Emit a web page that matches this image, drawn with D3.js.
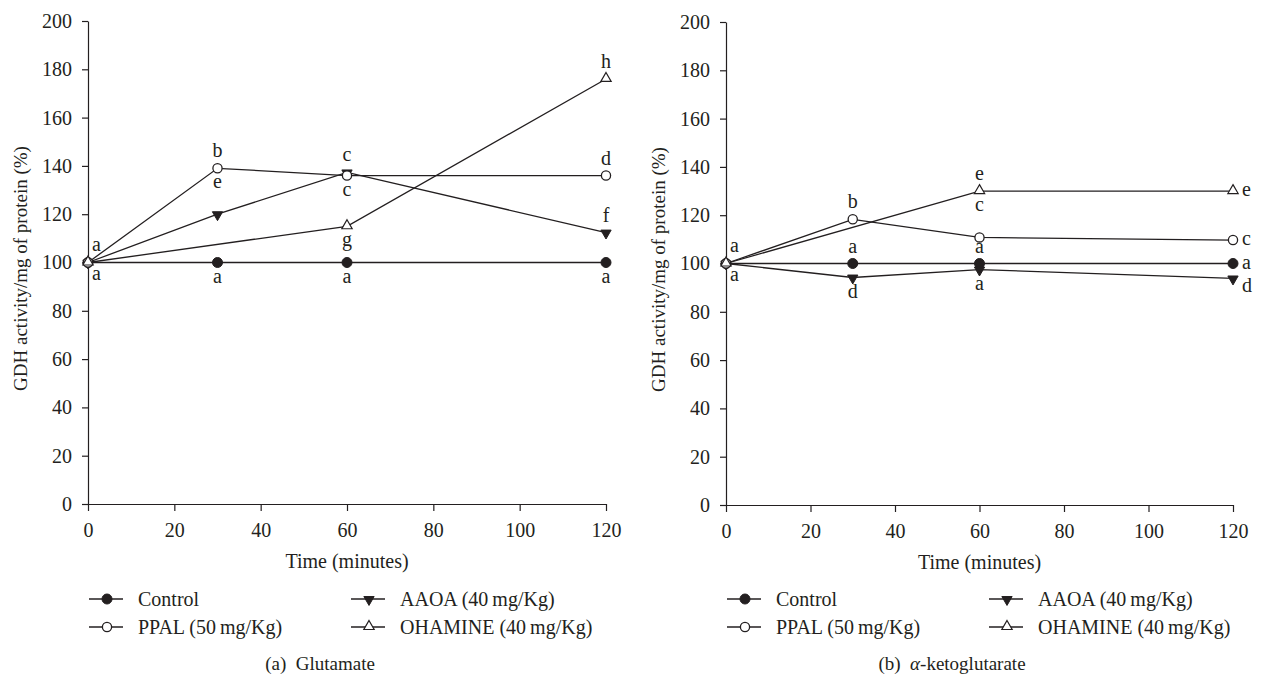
<!DOCTYPE html>
<meta charset="utf-8">
<html>
<head>
    <script src="https://d3js.org/d3.v7.min.js"></script>
    <style>
        body { margin: 0; background: white; }
        svg text { font-family: 'Liberation Serif', 'Times New Roman', serif; fill: #231f20; }
        .axis path, .axis line { stroke: #231f20; stroke-width: 1.2; }
        .axis text { font-size: 20px; }
    </style>
</head>
<body>
<svg width="1261" height="674"></svg>
<script>
    // sampling times (minutes)
    const times = [0, 30, 60, 120];
    const seriesNames = ["Control", "PPAL (50\u2009mg/Kg)", "AAOA (40\u2009mg/Kg)", "OHAMINE (40\u2009mg/Kg)"];
    const seriesKeys = ["control", "ppal", "aaoa", "ohamine"];
    const xTicks = [0, 20, 40, 60, 80, 100, 120];
    const yTicks = [0, 20, 40, 60, 80, 100, 120, 140, 160, 180, 200];

    // (a) glutamate, % of control
    const gluControl = [100, 100, 100, 100];
    const gluPPAL = [100, 139, 136, 136];
    const gluAAOA = [100, 120, 137.3, 112.4];
    const gluOHAMINE = [100, null, 115, 176];

    // (b) alpha-ketoglutarate
    const ketoControl = [100, 100, 100, 100];
    const ketoPPAL = [100, 118.3, 110.8, 109.7];
    const ketoAAOA = [100, 94.2, 97.5, 93.8];
    const ketoOHAMINE = [100, null, 130, 130];

    // significance letters: [time, series, letter, where]
    const gluLetters = [
        [0, "control", "a", "aboveRight"], [0, "control", "a", "belowRight"],
        [30, "ppal", "b", "above"], [30, "ppal", "e", "below"], [30, "control", "a", "below"],
        [60, "aaoa", "c", "above"], [60, "ppal", "c", "below"], [60, "ohamine", "g", "below"], [60, "control", "a", "below"],
        [120, "ohamine", "h", "above"], [120, "ppal", "d", "above"], [120, "aaoa", "f", "above"], [120, "control", "a", "below"]
    ];
    const ketoLetters = [
        [0, "control", "a", "aboveRight"], [0, "control", "a", "belowRight"],
        [30, "ppal", "b", "above"], [30, "control", "a", "above"], [30, "aaoa", "d", "below"],
        [60, "ohamine", "e", "above"], [60, "ohamine", "c", "below"], [60, "control", "a", "above"], [60, "aaoa", "a", "below"],
        [120, "ohamine", "e", "right"], [120, "ppal", "c", "right"], [120, "control", "a", "right"], [120, "aaoa", "d", "rightLow"]
    ];

    const svg = d3.select("svg");

    const triUp = d3.symbol().type(d3.symbolTriangle).size(46);

    function drawMarker(sel, key, x, y) {
        if (key === "control") {
            sel.append("circle").attr("cx", x).attr("cy", y).attr("r", 5)
                .attr("fill", "#231f20").attr("stroke", "#231f20");
        } else if (key === "ppal") {
            sel.append("circle").attr("cx", x).attr("cy", y).attr("r", 4.6)
                .attr("fill", "white").attr("stroke", "#231f20").attr("stroke-width", 1.3);
        } else if (key === "aaoa") {
            sel.append("path").attr("d", triUp())
                .attr("transform", `translate(${x},${y + 0.5}) rotate(180)`)
                .attr("fill", "#231f20").attr("stroke", "#231f20").attr("stroke-width", 1);
        } else {
            sel.append("path").attr("d", triUp())
                .attr("transform", `translate(${x},${y - 0.5})`)
                .attr("fill", "white").attr("stroke", "#231f20").attr("stroke-width", 1.2);
        }
    }

    function drawPanel(cfg) {
        const x = d3.scaleLinear().domain([0, 120]).range([cfg.left, cfg.right]);
        const y = d3.scaleLinear().domain([0, 200]).range([cfg.bottom, cfg.top]);
        const g = svg.append("g");

        g.append("g")
            .attr("class", "axis")
            .attr("transform", `translate(0,${cfg.bottom})`)
            .call(d3.axisBottom(x).tickValues(xTicks).tickSize(7).tickSizeOuter(0).tickPadding(12));

        g.append("g")
            .attr("class", "axis")
            .attr("transform", `translate(${cfg.left},0)`)
            .call(d3.axisLeft(y).tickValues(yTicks).tickSize(6).tickSizeOuter(0).tickPadding(10));

        g.selectAll(".axis").attr("font-family", null).attr("font-size", null);

        // axis titles
        g.append("text")
            .attr("x", (cfg.left + cfg.right) / 2).attr("y", cfg.bottom + 64)
            .attr("text-anchor", "middle").attr("font-size", 20)
            .text("Time (minutes)");
        g.append("text")
            .attr("transform", `translate(${cfg.left - 61},${(cfg.top + cfg.bottom) / 2 + 6}) rotate(-90)`)
            .attr("text-anchor", "middle").attr("font-size", 19)
            .text("GDH activity/mg of protein (%)");

        // lines then markers
        const line = d3.line()
            .x(d => x(d.t)).y(d => y(d.v));

        const lookup = {};
        seriesKeys.forEach((k, i) => {
            const pts = times.map((t, j) => ({ t: t, v: cfg.series[i][j] }));
            lookup[k] = pts;
            g.append("path")
                .datum(pts.filter(d => d.v !== null))
                .attr("d", line)
                .attr("fill", "none")
                .attr("stroke", "#231f20")
                .attr("stroke-width", 1.3);
        });

        const order = ["control", "aaoa", "ppal", "ohamine"];
        order.forEach(k => {
            lookup[k].filter(d => d.v !== null).forEach(d => drawMarker(g, k, x(d.t), y(d.v)));
        });

        // letters
        cfg.letters.forEach(([t, k, txt, where]) => {
            const p = lookup[k].find(d => d.t === t);
            let px = x(t), py = y(p.v), anchor = "middle";
            if (where === "above") py -= 11;
            else if (where === "below") py += 20;
            else if (where === "aboveRight") { px += 4; py -= 12; anchor = "start"; }
            else if (where === "belowRight") { px += 4; py += 17; anchor = "start"; }
            else if (where === "right") { px += 9; py += 5; anchor = "start"; }
            else if (where === "rightLow") { px += 9; py += 14; anchor = "start"; }
            g.append("text")
                .attr("x", px).attr("y", py)
                .attr("text-anchor", anchor).attr("font-size", 20)
                .text(txt);
        });

        // legend
        const legendPos = [[0, 0], [0, 1], [1, 0], [1, 1]];
        seriesKeys.forEach((k, i) => {
            const [col, row] = legendPos[i];
            const lx = cfg.left + 1 + col * 262;
            const ly = 599 + row * 28;
            g.append("line")
                .attr("x1", lx).attr("x2", lx + 34)
                .attr("y1", ly).attr("y2", ly)
                .attr("stroke", "#231f20").attr("stroke-width", 1.3);
            drawMarker(g, k, lx + 18, ly);
            g.append("text")
                .attr("x", lx + 49).attr("y", ly + 7)
                .attr("font-size", 20)
                .text(seriesNames[i]);
        });

        // caption
        const cap = g.append("text")
            .attr("x", cfg.captionX).attr("y", 670)
            .attr("text-anchor", "middle").attr("font-size", 19);
        cap.append("tspan").text(cfg.captionTag + "\u2002");
        if (cfg.captionGreek) {
            cap.append("tspan").attr("font-style", "italic").text(cfg.captionGreek);
        }
        cap.append("tspan").text(cfg.captionText);
    }

    drawPanel({
        left: 88, right: 606, top: 21, bottom: 504,
        series: [gluControl, gluPPAL, gluAAOA, gluOHAMINE],
        letters: gluLetters,
        captionX: 320, captionTag: "(a)", captionGreek: null, captionText: "Glutamate"
    });

    drawPanel({
        left: 726, right: 1233, top: 22, bottom: 505,
        series: [ketoControl, ketoPPAL, ketoAAOA, ketoOHAMINE],
        letters: ketoLetters,
        captionX: 952, captionTag: "(b)", captionGreek: "\u03b1", captionText: "-ketoglutarate"
    });
</script>
</body>
</html>
